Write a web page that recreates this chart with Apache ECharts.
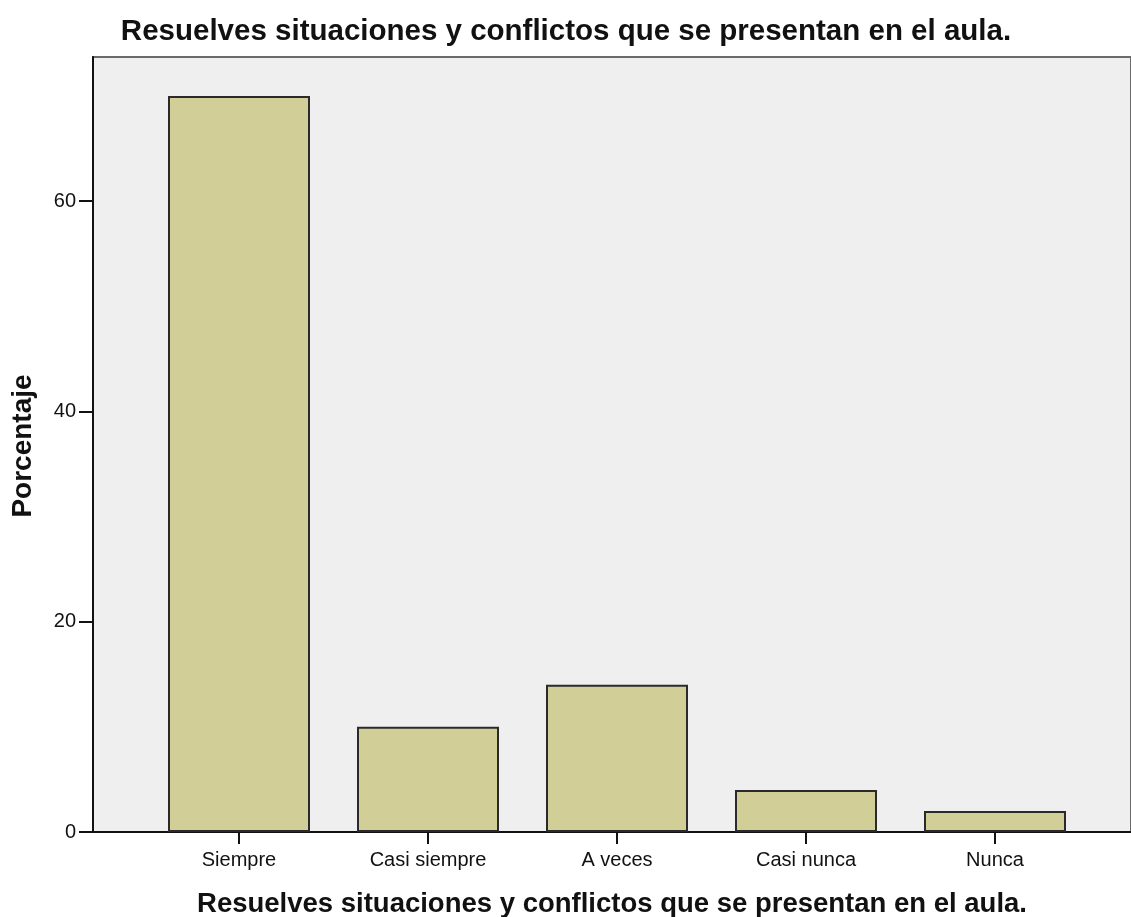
<!DOCTYPE html>
<html>
<head>
<meta charset="utf-8">
<script src="https://cdn.jsdelivr.net/npm/echarts@6/dist/echarts.min.js"></script>
<style>
html,body{margin:0;padding:0;background:#fff;}
#chart{width:1131px;height:917px;}
</style>
</head>
<body>
<div id="chart"></div>
<script>
const categories = ['Siempre', 'Casi siempre', 'A veces', 'Casi nunca', 'Nunca'];
const percentages = [70, 10, 14, 4, 2];
const yTicks = [0, 20, 40, 60];
const titleText = 'Resuelves situaciones y conflictos que se presentan en el aula.';
const xTitleText = 'Resuelves situaciones y conflictos que se presentan en el aula.';
const yTitleText = 'Porcentaje';

const FONT = '"Liberation Sans", Arial, sans-serif';
const Y_MAX = 73.7;

const chart = echarts.init(document.getElementById('chart'));
chart.setOption({
  animation: false,
  backgroundColor: '#ffffff',
  grid: [
    { left: 93, top: 57, width: 1050, bottom: 85, show: true, backgroundColor: '#efefef', borderColor: '#6a6a6a', borderWidth: 2, containLabel: false },
    { left: 144.5, top: 57, width: 945, bottom: 85, containLabel: false }
  ],
  xAxis: [
    { gridIndex: 0, type: 'value', min: 0, max: 1, axisLine: { show: true, onZero: false, lineStyle: { color: '#111', width: 2 } }, axisTick: { show: false }, axisLabel: { show: false }, splitLine: { show: false } },
    { gridIndex: 1, type: 'category', data: categories, boundaryGap: true,
      axisLine: { show: false },
      axisTick: { show: true, alignWithLabel: true, length: 12, lineStyle: { color: '#111', width: 2 } },
      axisLabel: { show: true, fontFamily: FONT, fontSize: 20, color: '#111', margin: 18 },
      splitLine: { show: false } }
  ],
  yAxis: [
    { gridIndex: 0, type: 'value', min: 0, max: Y_MAX,
      axisLine: { show: true, onZero: false, lineStyle: { color: '#111', width: 2 } },
      axisTick: { show: true, length: 14, customValues: yTicks, lineStyle: { color: '#111', width: 2 } },
      axisLabel: { show: true, customValues: yTicks, fontFamily: FONT, fontSize: 20, color: '#111', margin: 17 },
      splitLine: { show: false } },
    { gridIndex: 1, type: 'value', min: 0, max: Y_MAX, show: false, splitLine: { show: false } }
  ],
  series: [{
    type: 'bar',
    xAxisIndex: 1,
    yAxisIndex: 1,
    data: percentages,
    barWidth: 142,
    itemStyle: { color: '#d2ce98', borderColor: '#2a2a2a', borderWidth: 2 }
  }],
  graphic: [
    { type: 'text', x: 566, y: 32, style: { text: titleText, font: 'bold 29.5px ' + FONT, fill: '#111', textAlign: 'center', textVerticalAlign: 'middle' } },
    { type: 'text', x: 612, y: 904, style: { text: xTitleText, font: 'bold 27.5px ' + FONT, fill: '#111', textAlign: 'center', textVerticalAlign: 'middle' } },
    { type: 'text', x: 23, y: 446, rotation: Math.PI / 2, style: { text: yTitleText, font: 'bold 28px ' + FONT, fill: '#111', textAlign: 'center', textVerticalAlign: 'middle' } }
  ]
});
</script>
</body>
</html>
